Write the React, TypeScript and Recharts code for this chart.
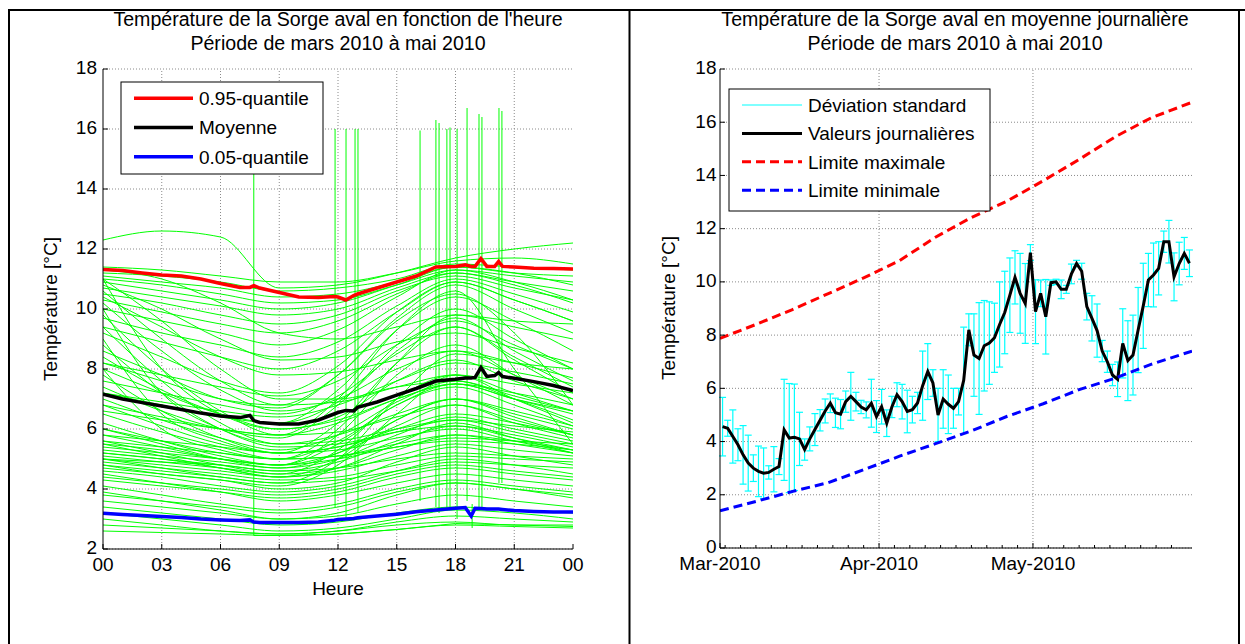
import React from 'react';
import { LineChart, Line, XAxis, YAxis, CartesianGrid, ReferenceLine, ErrorBar } from 'recharts';

const FONT = '"Liberation Sans", Arial, Helvetica, sans-serif';

// ---------- left panel: hourly curves ----------
const hourTicks = [0, 3, 6, 9, 12, 15, 18, 21, 24];
const leftTempTicks = [2, 4, 6, 8, 10, 12, 14, 16, 18];
const curveHours = [0, 3, 6, 9, 12, 15, 18, 21, 24];

// one row per day, values at curveHours
const dailyCurves = [
  [4.6, 4.4, 4.1, 3.9, 4.1, 4.6, 5.0, 4.8, 4.5],
  [4.5, 4.2, 3.9, 3.6, 3.8, 4.2, 4.5, 4.3, 4.1],
  [4.1, 3.8, 3.5, 3.3, 3.5, 4.0, 4.3, 4.1, 3.9],
  [3.9, 3.6, 3.3, 3.0, 3.1, 3.5, 3.8, 3.6, 3.4],
  [3.4, 3.2, 3.0, 2.8, 2.9, 3.2, 3.4, 3.3, 3.2],
  [3.2, 3.0, 2.8, 2.6, 2.7, 3.0, 3.3, 3.2, 3.0],
  [3.0, 2.8, 2.6, 2.5, 2.6, 2.9, 3.1, 3.0, 2.9],
  [2.8, 2.7, 2.6, 2.5, 2.6, 2.8, 2.9, 2.8, 2.8],
  [2.6, 2.55, 2.5, 2.45, 2.5, 2.65, 2.8, 2.75, 2.7],
  [3.6, 3.4, 3.2, 3.0, 3.2, 3.8, 4.2, 4.0, 3.7],
  [4.9, 4.7, 4.5, 4.3, 4.4, 4.8, 5.1, 5.0, 4.9],
  [5.0, 4.8, 4.6, 4.4, 4.6, 5.1, 5.5, 5.3, 5.1],
  [5.1, 4.9, 4.7, 4.5, 4.7, 5.3, 5.8, 5.5, 5.2],
  [5.2, 5.0, 4.8, 4.6, 4.9, 5.6, 6.1, 5.8, 5.4],
  [5.3, 5.1, 4.9, 4.7, 5.0, 5.8, 6.4, 6.0, 5.6],
  [5.4, 5.2, 5.0, 4.8, 5.2, 6.1, 6.8, 6.3, 5.8],
  [4.8, 4.6, 4.4, 4.2, 4.3, 4.6, 4.9, 4.8, 4.7],
  [5.0, 4.9, 4.8, 4.6, 4.7, 5.0, 5.2, 5.1, 5.0],
  [5.5, 5.3, 5.0, 4.8, 5.0, 5.4, 5.6, 5.5, 5.3],
  [4.7, 4.5, 4.3, 4.0, 4.2, 4.9, 5.4, 5.1, 4.8],
  [5.2, 5.0, 4.7, 4.4, 4.7, 5.5, 6.2, 5.7, 5.2],
  [4.4, 4.2, 4.0, 3.8, 4.0, 4.5, 4.8, 4.6, 4.4],
  [4.3, 4.1, 3.9, 3.7, 3.9, 4.4, 4.7, 4.5, 4.3],
  [3.8, 3.6, 3.4, 3.2, 3.4, 3.9, 4.2, 4.0, 3.8],
  [5.6, 5.2, 4.8, 4.5, 5.3, 7.0, 7.8, 7.0, 6.2],
  [6.2, 5.6, 5.1, 4.8, 5.8, 7.8, 8.8, 7.8, 6.8],
  [6.8, 6.1, 5.5, 5.2, 6.2, 8.2, 9.4, 8.4, 7.4],
  [7.4, 6.6, 6.0, 5.7, 6.8, 8.8, 10.0, 9.0, 8.0],
  [8.0, 7.2, 6.5, 6.2, 7.3, 9.3, 10.4, 9.6, 8.6],
  [8.6, 7.8, 7.0, 6.7, 7.8, 9.7, 10.8, 10.0, 9.2],
  [9.2, 8.4, 7.6, 7.2, 8.1, 9.9, 10.9, 10.3, 9.6],
  [5.8, 5.4, 5.0, 4.8, 5.5, 6.8, 7.4, 6.8, 6.1],
  [6.0, 5.5, 5.0, 4.7, 5.2, 6.3, 7.0, 6.5, 6.0],
  [6.5, 5.9, 5.4, 5.0, 5.6, 6.8, 7.5, 7.0, 6.6],
  [7.0, 6.3, 5.7, 5.3, 5.8, 6.9, 7.6, 7.1, 6.6],
  [5.5, 5.1, 4.7, 4.4, 5.0, 6.3, 7.0, 6.4, 5.8],
  [10.2, 8.6, 7.3, 6.6, 7.0, 8.0, 8.6, 7.8, 7.0],
  [10.6, 9.0, 7.6, 6.8, 6.9, 7.4, 7.8, 7.2, 6.6],
  [11.0, 9.6, 8.0, 7.0, 7.0, 7.4, 7.6, 7.0, 6.3],
  [9.8, 8.0, 6.6, 5.8, 5.9, 6.4, 6.8, 6.2, 5.7],
  [9.4, 7.6, 6.2, 5.5, 5.6, 6.0, 6.3, 5.9, 5.5],
  [8.8, 7.2, 6.0, 5.4, 5.5, 5.9, 6.1, 5.7, 5.3],
  [7.8, 6.6, 5.7, 5.2, 5.3, 5.7, 6.0, 5.6, 5.2],
  [8.4, 7.3, 6.5, 6.0, 6.4, 7.6, 8.3, 7.6, 7.0],
  [11.0, 8.0, 6.5, 6.0, 6.3, 7.0, 7.5, 7.0, 6.5],
  [10.0, 7.2, 6.0, 5.5, 5.8, 6.5, 7.0, 6.6, 6.1],
  [9.0, 6.5, 5.6, 5.2, 5.4, 6.0, 6.5, 6.2, 5.8],
  [8.0, 6.0, 5.3, 5.0, 5.1, 5.5, 5.8, 5.6, 5.3],
  [6.8, 6.4, 6.0, 5.8, 7.0, 9.3, 10.6, 8.0, 5.5],
  [8.2, 7.6, 7.0, 6.8, 7.8, 9.6, 10.5, 9.2, 6.8],
  [4.8, 4.5, 4.3, 4.1, 4.8, 6.5, 7.8, 7.5, 7.2],
  [5.0, 4.7, 4.4, 4.2, 5.0, 7.0, 8.5, 8.2, 8.0],
  [6.0, 5.6, 5.2, 5.0, 6.0, 8.2, 9.8, 9.6, 9.5],
  [6.6, 6.3, 6.0, 5.8, 6.2, 7.0, 7.5, 7.2, 6.8],
  [7.2, 6.9, 6.6, 6.4, 6.8, 7.6, 8.2, 7.9, 7.5],
  [5.8, 5.6, 5.4, 5.2, 5.4, 5.9, 6.3, 6.1, 5.9],
  [5.6, 5.4, 5.2, 5.0, 5.1, 5.4, 5.7, 5.6, 5.5],
  [12.3, 12.6, 12.4, 10.7, 10.8, 11.2, 11.7, 12.0, 12.2],
  [11.4, 11.3, 11.1, 10.9, 10.9, 11.2, 11.6, 11.7, 11.5],
  [11.2, 11.1, 10.9, 10.6, 10.7, 11.0, 11.5, 11.4, 11.3],
  [11.1, 10.9, 10.7, 10.4, 10.5, 10.9, 11.4, 11.2, 11.1],
  [11.0, 10.8, 10.5, 10.2, 10.3, 10.8, 11.3, 11.1, 10.9],
  [10.9, 10.6, 10.3, 10.0, 10.2, 10.8, 11.4, 11.2, 10.8],
  [10.7, 10.4, 10.1, 9.8, 10.0, 10.7, 11.2, 10.9, 10.6],
  [10.5, 10.2, 9.8, 9.5, 9.8, 10.6, 11.1, 10.7, 10.3],
  [10.3, 9.9, 9.5, 9.2, 9.6, 10.5, 11.2, 10.8, 10.2],
  [10.0, 9.6, 9.2, 8.8, 9.3, 10.4, 11.3, 10.9, 10.3],
  [9.7, 9.2, 8.8, 8.4, 8.9, 10.1, 11.0, 10.5, 9.9],
  [9.4, 8.9, 8.4, 8.0, 8.6, 9.9, 10.9, 10.3, 9.6],
  [11.3, 11.0, 10.2, 9.2, 9.0, 9.4, 9.8, 9.4, 9.0],
  [10.8, 10.0, 9.0, 8.3, 8.4, 8.9, 9.2, 8.7, 8.2],
  [10.4, 9.4, 8.4, 7.8, 7.9, 8.3, 8.6, 8.2, 7.7],
  [8.2, 7.8, 7.4, 7.1, 7.6, 8.8, 9.6, 8.8, 8.0],
  [7.6, 7.2, 6.8, 6.5, 7.1, 8.5, 9.4, 8.3, 7.2],
  [7.2, 6.8, 6.4, 6.2, 6.9, 8.6, 9.7, 8.6, 7.6],
];

// a day with missing data before 07:40
const partialHours = [7.7, 7.7, 9, 12, 15, 18, 21, 24];
const partialValues = [14.5, 2.45, 2.45, 2.5, 2.65, 2.85, 2.8, 2.75];

// single-sample outliers
const spikeHours = [11.85, 12.41, 12.87, 13.02, 16.19, 17.0, 17.16, 17.56, 17.72, 18.08, 18.59, 18.85, 19.2, 19.35, 20.22, 20.37];
const spikeBase = [3.4, 3.0, 4.6, 3.2, 3.6, 3.4, 3.2, 3.3, 3.4, 3.0, 3.6, 3.5, 3.4, 3.4, 4.2, 4.2];
const spikePeak = [16.0, 16.0, 16.0, 16.0, 15.95, 16.3, 16.2, 16.0, 16.05, 16.0, 16.7, 2.7, 16.5, 16.4, 16.7, 16.6];

const statHours = [0, 1, 2, 3, 4, 5, 6, 7, 7.5, 7.7, 8, 9, 10, 11, 11.8, 12, 12.4, 12.8, 13, 14, 15, 16, 17, 18, 18.5, 18.8, 19, 19.3, 19.6, 20, 20.2, 20.4, 21, 22, 23, 24];
const q95 = [11.32, 11.28, 11.2, 11.13, 11.1, 11.0, 10.85, 10.72, 10.72, 10.78, 10.7, 10.55, 10.4, 10.38, 10.42, 10.4, 10.3, 10.45, 10.5, 10.7, 10.9, 11.1, 11.4, 11.42, 11.47, 11.42, 11.42, 11.68, 11.42, 11.42, 11.58, 11.42, 11.4, 11.36, 11.35, 11.33];
const hourMean = [7.16, 7.0, 6.88, 6.77, 6.65, 6.53, 6.43, 6.38, 6.45, 6.28, 6.22, 6.17, 6.17, 6.3, 6.5, 6.55, 6.62, 6.6, 6.72, 6.9, 7.13, 7.35, 7.6, 7.66, 7.7, 7.7, 7.72, 8.05, 7.75, 7.78, 7.88, 7.75, 7.69, 7.58, 7.45, 7.28];
const q05 = [3.19, 3.15, 3.12, 3.08, 3.05, 3.0, 2.97, 2.95, 2.97, 2.9, 2.88, 2.88, 2.88, 2.9, 2.96, 2.98, 3.0, 3.02, 3.04, 3.1, 3.16, 3.24, 3.3, 3.36, 3.38, 3.1, 3.36, 3.35, 3.33, 3.33, 3.33, 3.32, 3.28, 3.25, 3.23, 3.23];

// ---------- right panel: daily means ----------
const rightTempTicks = [0, 2, 4, 6, 8, 10, 12, 14, 16, 18];
const monthStartDays = [0, 31, 61];
const monthLabels = ['Mar-2010', 'Apr-2010', 'May-2010'];
const minorDateTicks = [1, 4, 7, 10, 13, 16, 19, 22, 25, 28, 34, 37, 40, 43, 46, 49, 52, 55, 58, 64, 67, 70, 73, 76, 79, 82, 85, 88];

const dailyMean = [
  4.56, 4.5, 4.19, 3.88, 3.5, 3.19, 3.0, 2.88, 2.81, 2.84,
  2.96, 3.06, 4.44, 4.13, 4.16, 4.1, 3.7, 4.1, 4.45, 4.8,
  5.15, 5.44, 5.08, 5.03, 5.5, 5.7, 5.5, 5.3, 5.19, 5.44,
  4.94, 5.31, 4.69, 5.3, 5.76, 5.5, 5.13, 5.2, 5.45, 6.1,
  6.63, 6.2, 5.0, 5.6, 5.4, 5.25, 5.5, 6.3, 8.2, 7.25,
  7.12, 7.6, 7.7, 7.9, 8.4, 8.85, 9.5, 10.17, 9.57, 9.19,
  11.1, 8.88, 9.57, 8.69, 9.97, 10.0, 9.72, 9.72, 10.3, 10.69,
  10.4, 9.07, 8.63, 8.17, 7.4, 7.0, 6.5, 6.34, 7.69, 7.04,
  7.25, 8.19, 9.1, 10.07, 10.26, 10.51, 11.51, 11.51, 10.19, 10.69,
  11.07, 10.7,
];
const dailySd = [
  1.1, 0.3, 1.0, 0.6, 1.1, 1.05, 0.5, 0.95, 0.95, 0.25,
  0.85, 0.3, 1.9, 2.05, 2.0, 1.0, 0.4, 0.45, 0.6, 0.4,
  0.45, 0.35, 0.55, 0.55, 0.4, 0.9, 0.35, 0.25, 0.3, 0.9,
  0.6, 0.65, 0.5, 0.4, 0.45, 0.65, 0.8, 0.5, 0.4, 1.3,
  1.05, 0.5, 1.0, 1.1, 1.1, 0.75, 0.5, 2.0, 0.6, 1.55,
  2.1, 1.7, 1.55, 1.3, 1.6, 1.55, 1.4, 1.0, 1.5, 1.5,
  0.3, 1.2, 0.5, 1.4, 0.1, 0.1, 0.35, 0.15, 0.37, 0.12,
  0.3, 0.5, 0.85, 1.0, 0.4, 0.4, 0.4, 0.65, 1.3, 1.5,
  1.5, 1.6, 1.6, 1.0, 1.2, 1.0, 0.4, 0.8, 0.9, 0.8,
  0.6, 0.5,
];

const limitDays = [0, 7, 14, 21, 28, 35, 42, 49, 56, 63, 70, 77, 84, 92];
const limitMax = [7.88, 8.4, 8.95, 9.55, 10.15, 10.8, 11.68, 12.42, 13.04, 13.8, 14.6, 15.45, 16.16, 16.75];
const limitMin = [1.4, 1.75, 2.12, 2.45, 2.94, 3.45, 3.92, 4.4, 4.95, 5.42, 5.95, 6.38, 6.9, 7.4];

// ---------- derived rows ----------
const greenRows = dailyCurves.map(vals => curveHours.map((h, i) => ({ h, v: vals[i] })));
const partialRows = partialHours.map((h, i) => ({ h, v: partialValues[i] }));
const spikeRows = spikeHours.map((h, i) => [{ h, v: spikeBase[i] }, { h, v: spikePeak[i] }]);
const q95Rows = statHours.map((h, i) => ({ h, v: q95[i] }));
const meanRows = statHours.map((h, i) => ({ h, v: hourMean[i] }));
const q05Rows = statHours.map((h, i) => ({ h, v: q05[i] }));

const dailyRows = dailyMean.map((v, i) => ({ d: i + 0.5, v, sd: dailySd[i] }));
const maxRows = limitDays.map((d, i) => ({ d, v: limitMax[i] }));
const minRows = limitDays.map((d, i) => ({ d, v: limitMin[i] }));
const dateTicks = [...monthStartDays, ...minorDateTicks].sort((a, b) => a - b);

const GRID = { stroke: '#8a8a8a', strokeDasharray: '1 2', strokeWidth: 1 };
const GREEN = '#00ff00';

const pad2 = (h: number) => String(h % 24).padStart(2, '0');

const yTickLeft = (gap: number) => (p: any) => (
  <g>
    <line x1={p.x} x2={p.x + 5} y1={p.y} y2={p.y} stroke="#000" />
    <text x={p.x - gap} y={p.y - 1} dy="0.34em" textAnchor="end" fontSize={19} fontFamily={FONT} fill="#000">
      {p.payload.value}
    </text>
  </g>
);

const yTickRight = (p: any) => <line x1={p.x} x2={p.x - 5} y1={p.y} y2={p.y} stroke="#000" />;
const xTickTop = (p: any) => <line x1={p.x} x2={p.x} y1={p.y} y2={p.y + 5} stroke="#000" />;

const hourTick = (p: any) => (
  <g>
    <line x1={p.x} x2={p.x} y1={p.y} y2={p.y - 5} stroke="#000" />
    <text x={p.x} y={p.y + 22} textAnchor="middle" fontSize={19} fontFamily={FONT} fill="#000">
      {pad2(p.payload.value)}
    </text>
  </g>
);

const dateTick = (p: any) => {
  const idx = monthStartDays.indexOf(p.payload.value);
  return (
    <g>
      <line x1={p.x} x2={p.x} y1={p.y} y2={p.y - (idx >= 0 ? 5 : 3)} stroke="#000" />
      {idx >= 0 && (
        <text x={p.x} y={p.y + 22} textAnchor="middle" fontSize={19} fontFamily={FONT} fill="#000">
          {monthLabels[idx]}
        </text>
      )}
    </g>
  );
};

function HourPanel() {
  return (
    <LineChart width={628} height={644} margin={{ top: 69, right: 55, bottom: 65, left: 63 }}>
      <CartesianGrid vertical={false} {...GRID} />
      {hourTicks.slice(1, -1).map(h => (
        <ReferenceLine key={h} x={h} {...GRID} />
      ))}
      <XAxis type="number" dataKey="h" domain={[0, 24]} ticks={hourTicks} interval={0} allowDataOverflow
        height={30} tickSize={0} tickMargin={0} tickLine={false} axisLine={{ stroke: '#000' }} tick={hourTick} />
      <XAxis xAxisId="t" orientation="top" type="number" dataKey="h" domain={[0, 24]} ticks={hourTicks.slice(1, -1)}
        interval={0} height={0} tickSize={0} tickMargin={0} tickLine={false} axisLine={false} tick={xTickTop} />
      <YAxis type="number" domain={[2, 18]} ticks={leftTempTicks} interval={0} allowDataOverflow width={40}
        tickSize={0} tickMargin={0} tickLine={false} axisLine={{ stroke: '#000' }} tick={yTickLeft(6)} />
      <YAxis yAxisId="r" orientation="right" type="number" domain={[2, 18]} ticks={leftTempTicks} interval={0}
        width={0} tickSize={0} tickMargin={0} tickLine={false} axisLine={false} tick={yTickRight} />
      {greenRows.map((rows, i) => (
        <Line key={'g' + i} data={rows} dataKey="v" type="monotone" stroke={GREEN} strokeWidth={1}
          dot={false} activeDot={false} isAnimationActive={false} />
      ))}
      <Line data={partialRows} dataKey="v" type="linear" stroke={GREEN} strokeWidth={1} dot={false} activeDot={false} isAnimationActive={false} />
      {spikeRows.map((rows, i) => (
        <Line key={'s' + i} data={rows} dataKey="v" type="linear" stroke={GREEN} strokeWidth={1}
          dot={false} activeDot={false} isAnimationActive={false} />
      ))}
      <Line data={q95Rows} dataKey="v" stroke="#ff0000" strokeWidth={3.5} dot={false} activeDot={false} isAnimationActive={false} />
      <Line data={meanRows} dataKey="v" stroke="#000000" strokeWidth={3.5} dot={false} activeDot={false} isAnimationActive={false} />
      <Line data={q05Rows} dataKey="v" stroke="#0000ff" strokeWidth={3.5} dot={false} activeDot={false} isAnimationActive={false} />
    </LineChart>
  );
}

function DailyPanel() {
  return (
    <LineChart width={617} height={644} margin={{ top: 69, right: 53, bottom: 66, left: 52 }}>
      <CartesianGrid vertical={false} {...GRID} />
      {monthStartDays.slice(1).map(d => (
        <ReferenceLine key={d} x={d} {...GRID} />
      ))}
      <XAxis type="number" dataKey="d" domain={[0, 92]} ticks={dateTicks} interval={0} allowDataOverflow
        height={30} tickSize={0} tickMargin={0} tickLine={false} axisLine={{ stroke: '#000' }} tick={dateTick} />
      <XAxis xAxisId="t" orientation="top" type="number" dataKey="d" domain={[0, 92]} ticks={monthStartDays.slice(1)}
        interval={0} height={0} tickSize={0} tickMargin={0} tickLine={false} axisLine={false} tick={xTickTop} />
      <YAxis type="number" domain={[0, 18]} ticks={rightTempTicks} interval={0} allowDataOverflow width={40}
        tickSize={0} tickMargin={0} tickLine={false} axisLine={{ stroke: '#000' }} tick={yTickLeft(3.5)} />
      <YAxis yAxisId="r" orientation="right" type="number" domain={[0, 18]} ticks={rightTempTicks} interval={0}
        width={0} tickSize={0} tickMargin={0} tickLine={false} axisLine={false} tick={yTickRight} />
      <Line data={dailyRows} dataKey="v" stroke="none" dot={false} activeDot={false} isAnimationActive={false}>
        <ErrorBar dataKey="sd" direction="y" width={3.5} stroke="#00ffff" strokeWidth={1.2} isAnimationActive={false} />
      </Line>
      <Line data={dailyRows} dataKey="v" stroke="#000000" strokeWidth={3} dot={false} activeDot={false} isAnimationActive={false} />
      <Line data={maxRows} dataKey="v" stroke="#ff0000" strokeWidth={3} strokeDasharray="9 5" dot={false} activeDot={false} isAnimationActive={false} />
      <Line data={minRows} dataKey="v" stroke="#0000ff" strokeWidth={3} strokeDasharray="9 5" dot={false} activeDot={false} isAnimationActive={false} />
    </LineChart>
  );
}

const txt = { fontFamily: FONT, fontSize: 19, fill: '#000' };
const titleTxt = { ...txt, fontSize: 19.6 };

function Overlay() {
  const leftLegend = [
    { label: '0.95-quantile', color: '#ff0000' },
    { label: 'Moyenne', color: '#000000' },
    { label: '0.05-quantile', color: '#0000ff' },
  ];
  const rightLegend = [
    { label: 'Déviation standard', color: '#00ffff', width: 1, dash: undefined },
    { label: 'Valeurs journalières', color: '#000000', width: 3, dash: undefined },
    { label: 'Limite maximale', color: '#ff0000', width: 3, dash: '9 5' },
    { label: 'Limite minimale', color: '#0000ff', width: 3, dash: '9 5' },
  ];
  return (
    <svg width={1245} height={644} style={{ position: 'absolute', left: 0, top: 0, pointerEvents: 'none' }}>
      {/* frame */}
      <line x1={8} x2={1245} y1={10} y2={10} stroke="#000" strokeWidth={2} />
      <line x1={9} x2={9} y1={9} y2={644} stroke="#000" strokeWidth={2} />
      <line x1={629.5} x2={629.5} y1={9} y2={644} stroke="#000" strokeWidth={2} />
      <line x1={1239} x2={1239} y1={9} y2={644} stroke="#000" strokeWidth={2} />

      {/* titles */}
      <text x={338} y={26} textAnchor="middle" {...titleTxt}>Température de la Sorge aval en fonction de l'heure</text>
      <text x={338} y={49.5} textAnchor="middle" {...titleTxt}>Période de mars 2010 à mai 2010</text>
      <text x={955} y={26} textAnchor="middle" {...titleTxt}>Température de la Sorge aval en moyenne journalière</text>
      <text x={955} y={49.5} textAnchor="middle" {...titleTxt}>Période de mars 2010 à mai 2010</text>

      {/* axis labels */}
      <text x={338} y={595} textAnchor="middle" {...txt}>Heure</text>
      <text transform="translate(57,309) rotate(-90)" textAnchor="middle" {...txt}>Température [°C]</text>
      <text transform="translate(675,308) rotate(-90)" textAnchor="middle" {...txt}>Température [°C]</text>

      {/* left legend */}
      <rect x={121} y={82} width={202} height={92} fill="#fff" stroke="#000" strokeWidth={1} />
      {leftLegend.map((e, i) => {
        const y = 98.3 + i * 29.2;
        return (
          <g key={e.label}>
            <line x1={134} x2={193} y1={y} y2={y} stroke={e.color} strokeWidth={3.5} />
            <text x={199} y={y} dy="0.36em" {...txt}>{e.label}</text>
          </g>
        );
      })}

      {/* right legend */}
      <rect x={729} y={89} width={261} height={122} fill="#fff" stroke="#000" strokeWidth={1} />
      {rightLegend.map((e, i) => {
        const y = 105 + i * 28.4;
        return (
          <g key={e.label}>
            <line x1={742} x2={802} y1={y} y2={y} stroke={e.color} strokeWidth={e.width} strokeDasharray={e.dash} />
            <text x={808} y={y} dy="0.36em" {...txt}>{e.label}</text>
          </g>
        );
      })}
    </svg>
  );
}

export default function App() {
  return (
    <div style={{ position: 'absolute', left: 0, top: 0, width: 1245, height: 644, background: '#fff', overflow: 'hidden' }}>
      <div style={{ position: 'absolute', left: 0, top: 0 }}>
        <HourPanel />
      </div>
      <div style={{ position: 'absolute', left: 628, top: 0 }}>
        <DailyPanel />
      </div>
      <Overlay />
    </div>
  );
}
